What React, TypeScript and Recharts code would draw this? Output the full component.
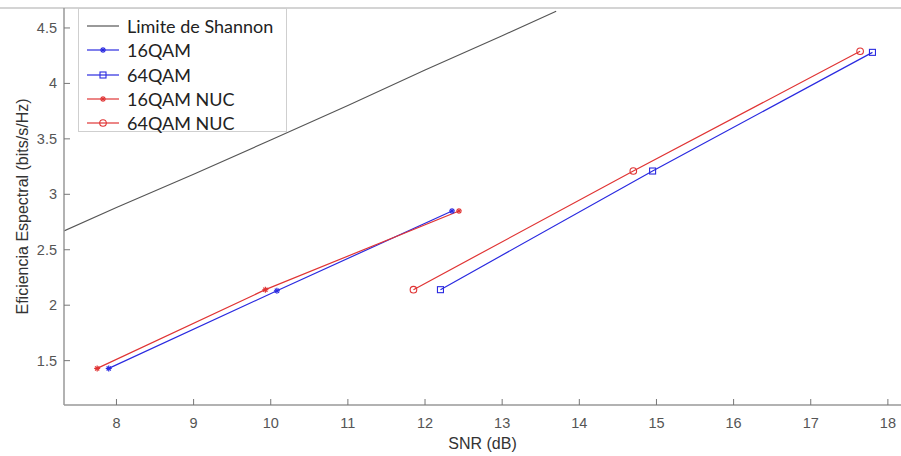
import { LineChart, Line, XAxis, YAxis, Legend } from "recharts"

// valores
const shannonSnr = [7.32, 8, 9, 10, 11, 12, 13, 13.7]
const shannonEff = [2.67, 2.88, 3.18, 3.49, 3.8, 4.12, 4.43, 4.65]

const qam16Snr = [7.9, 10.08, 12.35]
const qam16Eff = [1.43, 2.13, 2.85]

const qam64Snr = [12.2, 14.95, 17.8]
const qam64Eff = [2.14, 3.21, 4.28]

const nuc16Snr = [7.75, 9.93, 12.44]
const nuc16Eff = [1.43, 2.14, 2.85]

const nuc64Snr = [11.85, 14.7, 17.64]
const nuc64Eff = [2.14, 3.21, 4.29]

const xTicks = [8, 9, 10, 11, 12, 13, 14, 15, 16, 17, 18]
const yTicks = [1.5, 2, 2.5, 3, 3.5, 4, 4.5]

const BLUE = "#2a2ae0"
const RED = "#e03434"
const FONT = "'Liberation Sans', Arial, sans-serif"

const toPoints = (xs: number[], ys: number[]) => xs.map((x, i) => ({ x, y: ys[i] }))

function Asterisk({ cx, cy, color }: { cx: number; cy: number; color: string }) {
  const r = 3
  return (
    <g stroke={color} strokeWidth={1.2}>
      <line x1={cx - r} y1={cy} x2={cx + r} y2={cy} />
      <line x1={cx} y1={cy - r} x2={cx} y2={cy + r} />
      <line x1={cx - r * 0.7} y1={cy - r * 0.7} x2={cx + r * 0.7} y2={cy + r * 0.7} />
      <line x1={cx - r * 0.7} y1={cy + r * 0.7} x2={cx + r * 0.7} y2={cy - r * 0.7} />
    </g>
  )
}

function Square({ cx, cy, color }: { cx: number; cy: number; color: string }) {
  return <rect x={cx - 3} y={cy - 3} width={6} height={6} fill="none" stroke={color} strokeWidth={1.1} />
}

function Circle({ cx, cy, color }: { cx: number; cy: number; color: string }) {
  return <circle cx={cx} cy={cy} r={3.3} fill="none" stroke={color} strokeWidth={1.1} />
}

const legendRows = [
  { name: "Limite de Shannon", color: "#555", marker: null },
  { name: "16QAM", color: BLUE, marker: Asterisk },
  { name: "64QAM", color: BLUE, marker: Square },
  { name: "16QAM NUC", color: RED, marker: Asterisk },
  { name: "64QAM NUC", color: RED, marker: Circle },
]

function LegendBox() {
  return (
    <div
      style={{
        width: 209,
        height: 124,
        border: "1px solid #cfcfcf",
        background: "#fff",
        boxSizing: "border-box",
        fontFamily: "Lato, 'Open Sans', sans-serif",
        fontSize: 18,
        color: "#222",
        paddingTop: 5,
      }}
    >
      {legendRows.map((r) => {
        const M = r.marker
        return (
          <div key={r.name} style={{ display: "flex", alignItems: "center", height: 24.3, lineHeight: "24px" }}>
            <svg width={48} height={12} style={{ flex: "none" }}>
              <line x1={8} y1={6} x2={40} y2={6} stroke={r.color} strokeWidth={1.2} />
              {M && <M cx={24} cy={6} color={r.color} />}
            </svg>
            <span>{r.name}</span>
          </div>
        )
      })}
    </div>
  )
}

function XTick({ x, y, payload }: any) {
  return (
    <g>
      <line x1={x} y1={y} x2={x} y2={y - 6} stroke="#777" strokeWidth={1} />
      <text x={x} y={y + 18} dy="0.35em" textAnchor="middle" fill="#555" fontSize={14.5} fontFamily={FONT}>
        {payload.value}
      </text>
    </g>
  )
}

function YTick({ x, y, payload }: any) {
  return (
    <g>
      <line x1={x} y1={y} x2={x + 6} y2={y} stroke="#777" strokeWidth={1} />
      <text x={x - 7} y={y} dy="0.35em" textAnchor="end" fill="#555" fontSize={14.5} fontFamily={FONT}>
        {payload.value}
      </text>
    </g>
  )
}

const dot = (Shape: any, color: string) => (p: any) => <Shape key={p.index} cx={p.cx} cy={p.cy} color={color} />

export default function App() {
  return (
    <div style={{ position: "absolute", left: 0, top: 0, width: 901, height: 456, background: "#fff" }}>
      <div style={{ position: "absolute", left: 0, top: 7, width: 901, height: 2, background: "#d4d4d4" }} />
      <LineChart width={901} height={456} margin={{ top: 8, right: 0, bottom: 0, left: 0 }}>
        <XAxis
          type="number"
          dataKey="x"
          domain={[7.32, 18.17]}
          ticks={xTicks}
          allowDataOverflow
          height={51}
          tickSize={0}
          tickMargin={0}
          tickLine={false}
          tick={<XTick />}
          axisLine={{ stroke: "#999", strokeWidth: 1.5 }}
          label={{ value: "SNR (dB)", position: "insideBottom", offset: 7, fill: "#333", fontSize: 16, fontFamily: FONT }}
        />
        <YAxis
          type="number"
          dataKey="y"
          domain={[1.1, 4.68]}
          ticks={yTicks}
          allowDataOverflow
          width={64}
          tickSize={0}
          tickMargin={0}
          tickLine={false}
          tick={<YTick />}
          axisLine={{ stroke: "#999", strokeWidth: 1.5 }}
          label={{
            value: "Eficiencia Espectral (bits/s/Hz)",
            angle: -90,
            position: "insideLeft",
            offset: 22,
            style: { textAnchor: "middle" },
            fill: "#333",
            fontSize: 16,
            fontFamily: FONT,
          }}
        />
        <Legend
          layout="horizontal"
          verticalAlign="middle"
          align="center"
          content={() => <LegendBox />}
          wrapperStyle={{ position: "absolute", left: 78, top: 8, width: "auto" }}
        />
        <Line data={toPoints(shannonSnr, shannonEff)} dataKey="y" stroke="#555" strokeWidth={1.1} dot={false} isAnimationActive={false} />
        <Line data={toPoints(qam16Snr, qam16Eff)} dataKey="y" stroke={BLUE} strokeWidth={1.2} dot={dot(Asterisk, BLUE)} isAnimationActive={false} />
        <Line data={toPoints(qam64Snr, qam64Eff)} dataKey="y" stroke={BLUE} strokeWidth={1.2} dot={dot(Square, BLUE)} isAnimationActive={false} />
        <Line data={toPoints(nuc16Snr, nuc16Eff)} dataKey="y" stroke={RED} strokeWidth={1.2} dot={dot(Asterisk, RED)} isAnimationActive={false} />
        <Line data={toPoints(nuc64Snr, nuc64Eff)} dataKey="y" stroke={RED} strokeWidth={1.2} dot={dot(Circle, RED)} isAnimationActive={false} />
      </LineChart>
    </div>
  )
}
